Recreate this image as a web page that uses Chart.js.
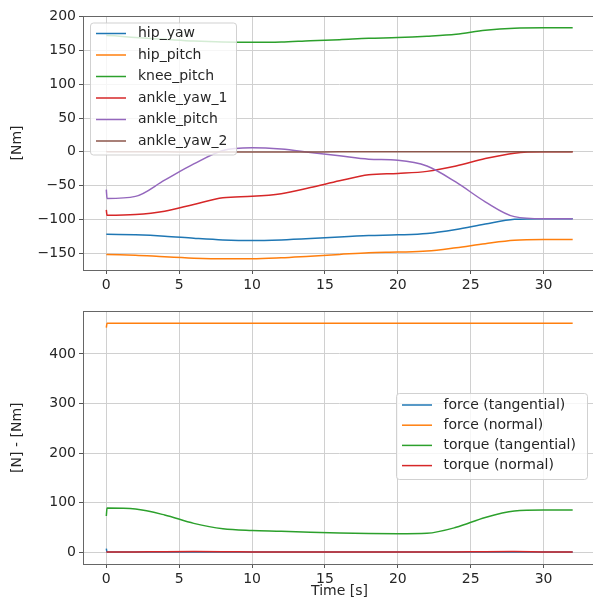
<!DOCTYPE html>
<html><head><meta charset="utf-8">
<script src="https://cdn.jsdelivr.net/npm/chart.js@4"></script>
<style>
html,body{margin:0;padding:0;background:#fff;overflow:hidden;width:593px;height:600px;position:relative}
canvas{position:absolute;left:0}
#c1{top:0}#c2{top:300px}
</style></head><body>
<canvas id="c1" width="600" height="300"></canvas>
<canvas id="c2" width="600" height="300"></canvas>
<script>
// ---- data ----
const times = [0, 0.05, 2, 4, 6, 8, 10, 12, 14, 16, 18, 20, 22, 24, 26, 28, 30, 32];
const xTicks = [0, 5, 10, 15, 20, 25, 30];
const yTicksTop = [-150, -100, -50, 0, 50, 100, 150, 200];
const yTicksBottom = [0, 100, 200, 300, 400];

const hipYaw      = [-122, -122, -123, -125, -128, -130.5, -131.5, -130.5, -128.5, -126, -124, -123, -121, -115, -107, -100, -99, -99];
const hipPitch    = [-152, -152, -153, -155.5, -157.5, -158.5, -158.5, -157, -154.5, -152, -149.5, -148.5, -147, -142, -136, -131, -130, -130];
const kneePitch   = [172, 172, 169, 166.5, 164, 162.5, 162, 162.5, 164.5, 166, 168, 169, 171, 174, 180, 183, 183.5, 183.5];
const ankleYaw1   = [-86, -94, -93, -88, -78, -68, -66, -62, -53, -43, -34, -32, -29, -21, -10, -2, 0, 0];
const anklePitch  = [-56, -69, -66, -42, -18, 2, 6, 4, -1, -6, -11, -12.5, -21, -45, -74, -96, -99, -99];
const ankleYaw2   = [1, 0, 0, 0, -0.5, -0.5, -0.5, -0.5, -0.3, 0, 0, 0, 0, 0, 0, 0, 0, 0];

const forceTangential  = [7, 0, 0, 0, 0, 0, 0, 0, 0, 0, 0, 0, 0, 0, 0, 0, 0, 0];
const forceNormal      = [453, 462, 462, 462, 462, 462, 462, 462, 462, 462, 462, 462, 462, 462, 462, 462, 462, 462];
const torqueTangential = [73, 89, 87, 75, 58, 47, 43.5, 42, 40, 38.5, 37.5, 37, 38, 50, 70, 83, 85, 85];
const torqueNormal     = [0, 0, 0.3, 0.8, 1, 0.8, 0.3, 0, 0, 0, 0, 0, 0, 0.3, 0.8, 1, 0.3, 0];

const topLabels = ['hip_yaw', 'hip_pitch', 'knee_pitch', 'ankle_yaw_1', 'ankle_pitch', 'ankle_yaw_2'];
const bottomLabels = ['force (tangential)', 'force (normal)', 'torque (tangential)', 'torque (normal)'];
const colors = ['#1f77b4', '#ff7f0e', '#2ca02c', '#d62728', '#9467bd', '#8c564b'];

// ---- helpers ----
const FONT = 'DejaVu Sans';
const TXT = '#262626';
function pts(ys) { return times.map((t, i) => ({x: t, y: ys[i]})); }
function mkDs(labels, series) {
  return series.map((s, i) => ({
    label: labels[i], data: pts(s), borderColor: colors[i], backgroundColor: colors[i],
    borderWidth: 1.5, pointRadius: 0, fill: false, cubicInterpolationMode: 'monotone',
    order: -i
  }));
}
const minus = v => String(v).replace('-', '\u2212');

const frame = {
  id: 'frame',
  afterDatasetsDraw(chart) {
    const {ctx, chartArea: a} = chart;
    ctx.save();
    ctx.strokeStyle = '#666'; ctx.lineWidth = 1;
    ctx.strokeRect(Math.round(a.left) + 0.5, Math.round(a.top) + 0.5, Math.round(a.right - a.left), Math.round(a.bottom - a.top));
    ctx.restore();
  }
};
const boxLegend = {
  id: 'boxLegend',
  afterDraw(chart, args, o) {
    const ctx = chart.ctx;
    ctx.save();
    const r = 3;
    ctx.beginPath();
    ctx.moveTo(o.x + r, o.y);
    ctx.arcTo(o.x + o.w, o.y, o.x + o.w, o.y + o.h, r);
    ctx.arcTo(o.x + o.w, o.y + o.h, o.x, o.y + o.h, r);
    ctx.arcTo(o.x, o.y + o.h, o.x, o.y, r);
    ctx.arcTo(o.x, o.y, o.x + o.w, o.y, r);
    ctx.closePath();
    ctx.fillStyle = 'rgba(255,255,255,0.8)';
    ctx.fill();
    ctx.strokeStyle = 'rgba(204,204,204,0.9)';
    ctx.lineWidth = 1;
    ctx.stroke();
    ctx.font = o.size + 'px "' + FONT + '"';
    ctx.textBaseline = 'middle'; ctx.textAlign = 'left';
    chart.data.datasets.forEach((ds, i) => {
      const yy = o.row0 + i * o.step;
      ctx.strokeStyle = ds.borderColor; ctx.lineWidth = 1.5;
      ctx.beginPath(); ctx.moveTo(o.lx0, yy); ctx.lineTo(o.lx1, yy); ctx.stroke();
      ctx.fillStyle = TXT;
      ctx.fillText(ds.label, o.tx, yy);
    });
    ctx.restore();
  }
};

function scales(yMin, yMax, yTicks, yTitle, xAxisH, showXTitle) {
  const grid = {color: '#d0d0d0', lineWidth: 1, tickColor: '#555', tickLength: 4, drawTicks: true};
  const font = {family: FONT, size: 14};
  return {
    x: {
      type: 'linear', min: -1.6, max: 33.6,
      afterBuildTicks: s => { s.ticks = xTicks.map(v => ({value: v})); },
      afterFit: s => { s.height = xAxisH; },
      grid: grid, border: {display: false},
      ticks: {font: font, color: TXT, padding: 3, maxRotation: 0, callback: v => minus(v)},
      title: {display: showXTitle, text: 'Time [s]', font: font, color: TXT, padding: {top: 0, bottom: 0}}
    },
    y: {
      type: 'linear', min: yMin, max: yMax,
      afterBuildTicks: s => { s.ticks = yTicks.map(v => ({value: v})); },
      afterFit: s => { s.width = 83; },
      grid: grid, border: {display: false},
      ticks: {font: font, color: TXT, padding: 3, callback: v => minus(v)},
      title: {display: true, text: yTitle, font: font, color: TXT, padding: {top: 9, bottom: 0}}
    }
  };
}

Chart.defaults.font.family = FONT;

new Chart(document.getElementById('c1'), {
  type: 'line',
  data: {datasets: mkDs(topLabels, [hipYaw, hipPitch, kneePitch, ankleYaw1, anklePitch, ankleYaw2])},
  options: {
    responsive: false, animation: false, devicePixelRatio: 1,
    layout: {padding: {top: 16, right: 4, left: 0, bottom: 0}},
    scales: scales(-175, 201, yTicksTop, '[Nm]', 30, false),
    plugins: {
      legend: {display: false}, tooltip: {enabled: false},
      boxLegend: {x: 90.5, y: 23, w: 146, h: 132, row0: 33.5, step: 21.5, lx0: 96, lx1: 126, tx: 138, size: 14}
    }
  },
  plugins: [frame, boxLegend]
});

new Chart(document.getElementById('c2'), {
  type: 'line',
  data: {datasets: mkDs(bottomLabels, [forceTangential, forceNormal, torqueTangential, torqueNormal])},
  options: {
    responsive: false, animation: false, devicePixelRatio: 1,
    layout: {padding: {top: 9, right: 4, left: 0, bottom: 0}},
    scales: scales(-24, 486, yTicksBottom, '[N] - [Nm]', 36, true),
    plugins: {
      legend: {display: false}, tooltip: {enabled: false},
      boxLegend: {x: 396.5, y: 93.5, w: 191, h: 86, row0: 105, step: 20.2, lx0: 402, lx1: 432, tx: 443.5, size: 14}
    }
  },
  plugins: [frame, boxLegend]
});
</script>
</body></html>
